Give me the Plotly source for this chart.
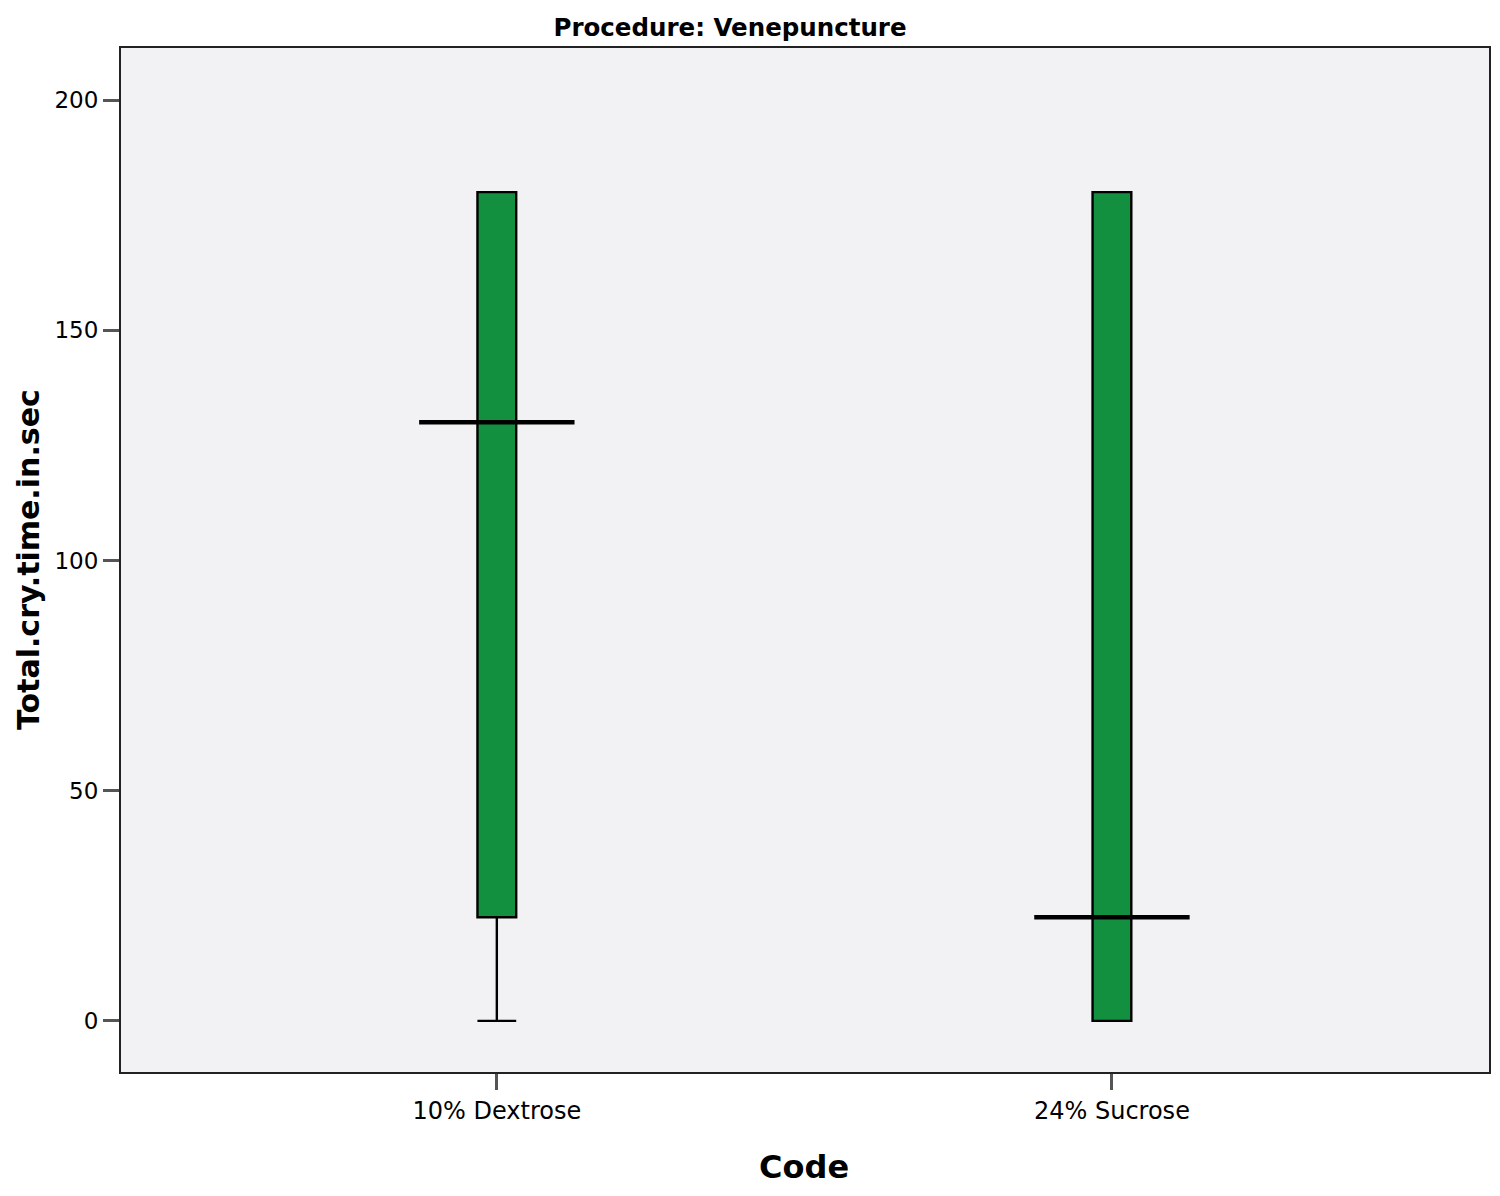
import plotly.graph_objects as go

# SPSS-style boxplot: total cry time by code, venepuncture
codes = ["10% Dextrose", "24% Sucrose"]
lower = [0, 0]
q1 = [22.5, 0]
median = [130, 22.5]
q3 = [180, 180]
upper = [180, 180]

y_ticks = [0, 50, 100, 150, 200]

green = "#12903f"
font_main = "DejaVu Sans, Liberation Sans, Arial, sans-serif"

fig = go.Figure()

fig.add_trace(go.Box(
    x=codes,
    lowerfence=lower,
    q1=q1,
    median=median,
    q3=q3,
    upperfence=upper,
    width=0.063,
    whiskerwidth=1,
    fillcolor=green,
    line=dict(color="black", width=2.4),
    boxpoints=False,
    showlegend=False,
))

# wide median bars as drawn by SPSS
fig.add_trace(go.Scatter(
    x=codes,
    y=median,
    mode="markers",
    marker=dict(symbol="line-ew", size=111,
                line=dict(color="black", width=4.5)),
    showlegend=False,
    hoverinfo="skip",
))

# page body adds an 8px offset, margins compensate for it
fig.update_layout(
    width=1500,
    height=1196,
    margin=dict(l=113, r=19, t=40, b=132),
    paper_bgcolor="white",
    plot_bgcolor="#f2f2f4",
    font=dict(family=font_main, color="black"),
    title=dict(
        text="<b>Procedure: Venepuncture</b>",
        x=722 / 1500, xref="container", xanchor="center",
        y=1 - 19 / 1196, yref="container", yanchor="middle",
        font=dict(size=24.5, color="black"),
    ),
)

fig.update_xaxes(
    type="category",
    range=[-0.611, 1.613],
    showgrid=False,
    showline=True, linecolor="#222", linewidth=2, mirror=True,
    ticks="outside", ticklen=16, tickwidth=3, tickcolor="#555",
    tickfont=dict(size=24),
)
fig.update_yaxes(
    range=[-11.1, 211.3],
    tickvals=y_ticks,
    showgrid=False, zeroline=False,
    showline=True, linecolor="#222", linewidth=2, mirror=True,
    ticks="outside", ticklen=16, tickwidth=3, tickcolor="#555",
    tickfont=dict(size=23),
)

fig.add_annotation(
    text="<b>Code</b>", x=(804 - 121) / 1368, y=-(1167 - 1072) / 1024,
    xref="paper", yref="paper", xanchor="center", yanchor="middle",
    showarrow=False, font=dict(size=32),
)
fig.add_annotation(
    text="<b>Total.cry.time.in.sec</b>", x=-(121 - 28) / 1368, y=0.5,
    xref="paper", yref="paper", xanchor="center", yanchor="middle",
    textangle=-90, showarrow=False, font=dict(size=30),
)

fig.write_html("out.html")
